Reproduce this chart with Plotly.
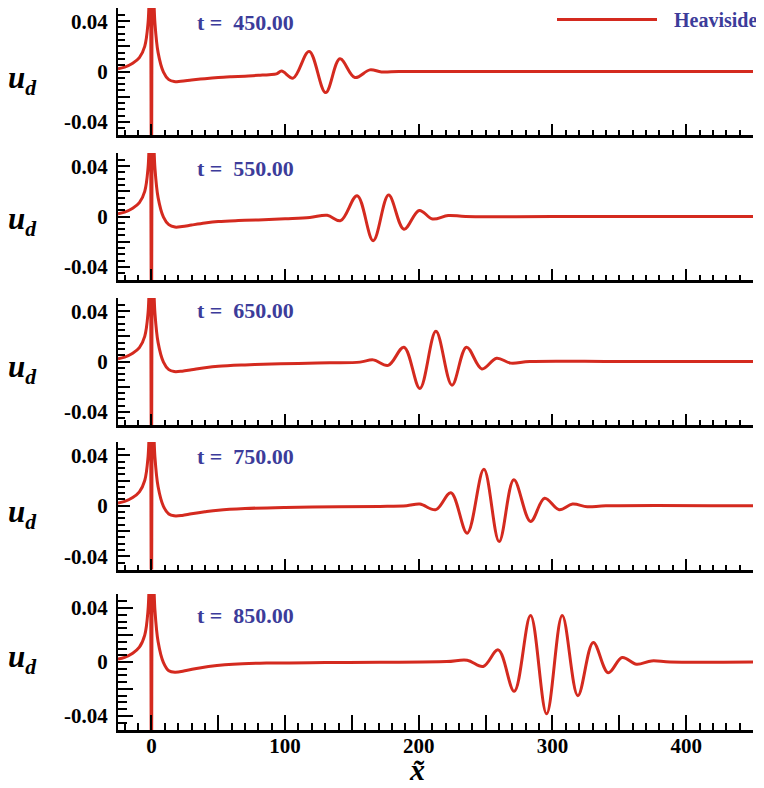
import plotly.graph_objects as go

# ---------------- data ----------------
times = ["450.00", "550.00", "650.00", "750.00", "850.00"]

# near field around the source (same in every panel)
near_x = [-25, -20, -14, -9, -5, -2.5, -1, 0, 1, 2.6, 5, 9, 13]
near_y = [0.0022, 0.0035, 0.0065, 0.011, 0.02, 0.039, 0.08, -0.08, 0.08, 0.039, 0.015, -0.0005, -0.0065]

x1 = [17, 22, 30, 40, 50, 60, 70, 80, 88, 93.6, 97.4, 106, 118, 130.3, 141, 152.2, 163.4, 172, 185, 220, 300, 450]
y1 = [-0.008, -0.0077, -0.0068, -0.0057, -0.0048, -0.0042, -0.0037, -0.003, -0.0025, -0.0019, 0.0003, -0.0053, 0.016, -0.0168, 0.0101, -0.0048, 0.0013, -0.0003, 0.0, 0.0, 0.0, 0.0]

x2 = [17.6, 23, 30, 40, 50, 65, 80, 100, 118.5, 131.5, 141.5, 153.9, 165.9, 177.4, 188.9, 200.3, 210.3, 222, 235, 300, 450]
y2 = [-0.0084, -0.008, -0.0068, -0.0052, -0.004, -0.0032, -0.0027, -0.0018, -0.0008, 0.001, -0.0033, 0.0165, -0.0192, 0.017, -0.0101, 0.0048, -0.002, 0.0008, 0.0, 0.0, 0.0]

x3 = [17, 23, 30, 40, 50, 70, 90, 110, 133.5, 156, 165.9, 177.1, 188.9, 200.8, 212.8, 224.8, 235.7, 247.2, 258.2, 268.7, 283, 350, 450]
y3 = [-0.008, -0.0077, -0.0066, -0.005, -0.0038, -0.0027, -0.002, -0.0015, -0.001, -0.0005, 0.0013, -0.0031, 0.0114, -0.0214, 0.024, -0.0188, 0.0114, -0.0059, 0.0026, -0.0013, 0.0, 0.0, 0.0]

x4 = [17, 23, 30, 40, 50, 70, 100, 140, 170.9, 190.9, 200.8, 212.8, 224, 236.2, 248.7, 260.1, 271.1, 283.6, 294.1, 305, 315, 326, 340, 450]
y4 = [-0.008, -0.0077, -0.0064, -0.0048, -0.0035, -0.0022, -0.0013, -0.0007, -0.0005, 0.0, 0.0013, -0.0031, 0.0103, -0.0217, 0.0289, -0.0284, 0.0206, -0.0124, 0.0059, -0.0031, 0.0013, -0.0008, 0.0, 0.0]

x5 = [17.6, 26, 36, 49, 61, 86, 130, 170.9, 220.8, 236.2, 248.2, 259.4, 271.4, 283.6, 295.6, 307.3, 319, 330.5, 341.7, 352.1, 362.9, 374.1, 388, 450]
y5 = [-0.0076, -0.0063, -0.0044, -0.0026, -0.0016, -0.0008, -0.0004, -0.0002, 0.0003, 0.0013, -0.0033, 0.009, -0.0218, 0.0345, -0.0385, 0.0345, -0.025, 0.0145, -0.008, 0.0033, -0.0017, 0.0008, 0.0, 0.0]

far_x = [x1, x2, x3, x4, x5]
far_y = [y1, y2, y3, y4, y5]

x_tickvals = [0, 50, 100, 150, 200, 250, 300, 350, 400, 450]
x_ticktext = ["0", "", "100", "", "200", "", "300", "", "400", ""]
y_tickvals = [-0.04, -0.02, 0, 0.02, 0.04]
y_ticktext = ["-0.04", "", "0", "", "0.04"]

# ---------------- layout helpers ----------------
OFF = 8  # browser body margin
W, H = 764 - OFF, 788 - OFF
ML, MR, MT, MB = 118 - OFF, 11, 0, 58
PW, PH = W - ML - MR, H - MT - MB


def py(p):
    return (H - MB - (p - OFF)) / PH


def px(p):
    return (p - OFF - ML) / PW


panels_px = [(8, 135), (153, 280), (298, 425), (442, 569.5), (594, 730)]
ud_y = [80, 221, 369, 514, 659]
t_y = [22, 168, 310, 456, 615]

RED = "#d42a1f"
BLUE = "#3c3c9a"
FONT = "Liberation Serif"

fig = go.Figure()
layout = dict(
    width=W, height=H,
    margin=dict(l=ML, r=MR, t=MT, b=MB),
    paper_bgcolor="white", plot_bgcolor="white",
    showlegend=False,
    annotations=[], shapes=[],
)

for i in range(5):
    n = i + 1
    xs = near_x + far_x[i]
    ys = near_y + far_y[i]
    fig.add_trace(go.Scatter(
        x=xs, y=ys, mode="lines",
        line=dict(color=RED, width=3, shape="spline", smoothing=1.0),
        xaxis=f"x{n}" if n > 1 else "x", yaxis=f"y{n}" if n > 1 else "y",
        name="Heaviside", hoverinfo="skip",
    ))
    last = (n == 5)
    tl_major = 15 if last else 11
    tl_minor = 7 if last else 5
    yl_major = 15 if last else 12
    yl_minor = 9 if last else 7
    top, bot = panels_px[i]
    xa = dict(
        domain=[0, 1], range=[-25, 450], anchor=f"y{n}" if n > 1 else "y",
        showline=True, linecolor="black", linewidth=3,
        ticks="inside", ticklen=tl_major, tickwidth=1.5, tickcolor="black",
        tickvals=x_tickvals, ticktext=[f"<b>{t}</b>" if t else "" for t in x_ticktext],
        showticklabels=last,
        tickfont=dict(family=FONT, size=21, color="black"),
        ticklabelstandoff=-5,
        showgrid=False, zeroline=False,
        minor=dict(ticks="inside", ticklen=tl_minor, tickwidth=1.5, tickcolor="black",
                   dtick=10, tick0=0, showgrid=False),
    )
    ya = dict(
        domain=[py(bot), py(top)], range=[-0.0505, 0.0505],
        anchor=f"x{n}" if n > 1 else "x",
        showline=True, linecolor="black", linewidth=2,
        ticks="inside", ticklen=yl_major, tickwidth=1.5, tickcolor="black",
        tickvals=y_tickvals, ticktext=[f"<b>{t}</b>" if t else "" for t in y_ticktext],
        tickfont=dict(family=FONT, size=21, color="black"),
        ticklabelstandoff=4,
        showgrid=False, zeroline=False,
        minor=dict(ticks="inside", ticklen=yl_minor, tickwidth=1.5, tickcolor="black",
                   dtick=0.005, tick0=0, showgrid=False),
    )
    layout["xaxis" if n == 1 else f"xaxis{n}"] = xa
    layout["yaxis" if n == 1 else f"yaxis{n}"] = ya

    layout["annotations"].append(dict(
        xref="paper", yref="paper", x=px(22), y=py(ud_y[i]),
        xanchor="center", yanchor="middle", showarrow=False,
        text="<b><i>u</i></b><sub><b><i>d</i></b></sub>",
        font=dict(family=FONT, size=31, color="black"),
    ))
    layout["annotations"].append(dict(
        xref="paper", yref="paper", x=px(195), y=py(t_y[i]),
        xanchor="left", yanchor="middle", showarrow=False,
        text=f"<b>t =&nbsp; {times[i]}</b>",
        font=dict(family=FONT, size=22, color=BLUE),
    ))

# legend (custom, as in reference)
layout["shapes"].append(dict(
    type="line", xref="paper", yref="paper",
    x0=px(557), x1=px(657), y0=py(19.5), y1=py(19.5),
    line=dict(color=RED, width=3),
))
layout["annotations"].append(dict(
    xref="paper", yref="paper", x=px(672), y=py(19.5),
    xanchor="left", yanchor="middle", showarrow=False,
    text="<b>Heaviside</b>", font=dict(family=FONT, size=20, color=BLUE),
))

# x-axis title: x with a tilde above
layout["annotations"].append(dict(
    xref="paper", yref="paper", x=px(417), y=py(769),
    xanchor="center", yanchor="middle", showarrow=False,
    text="<b><i>x\u0303</i></b>", font=dict(family=FONT, size=30, color="black"),
))

fig.update_layout(**layout)
fig.write_html("out.html")
